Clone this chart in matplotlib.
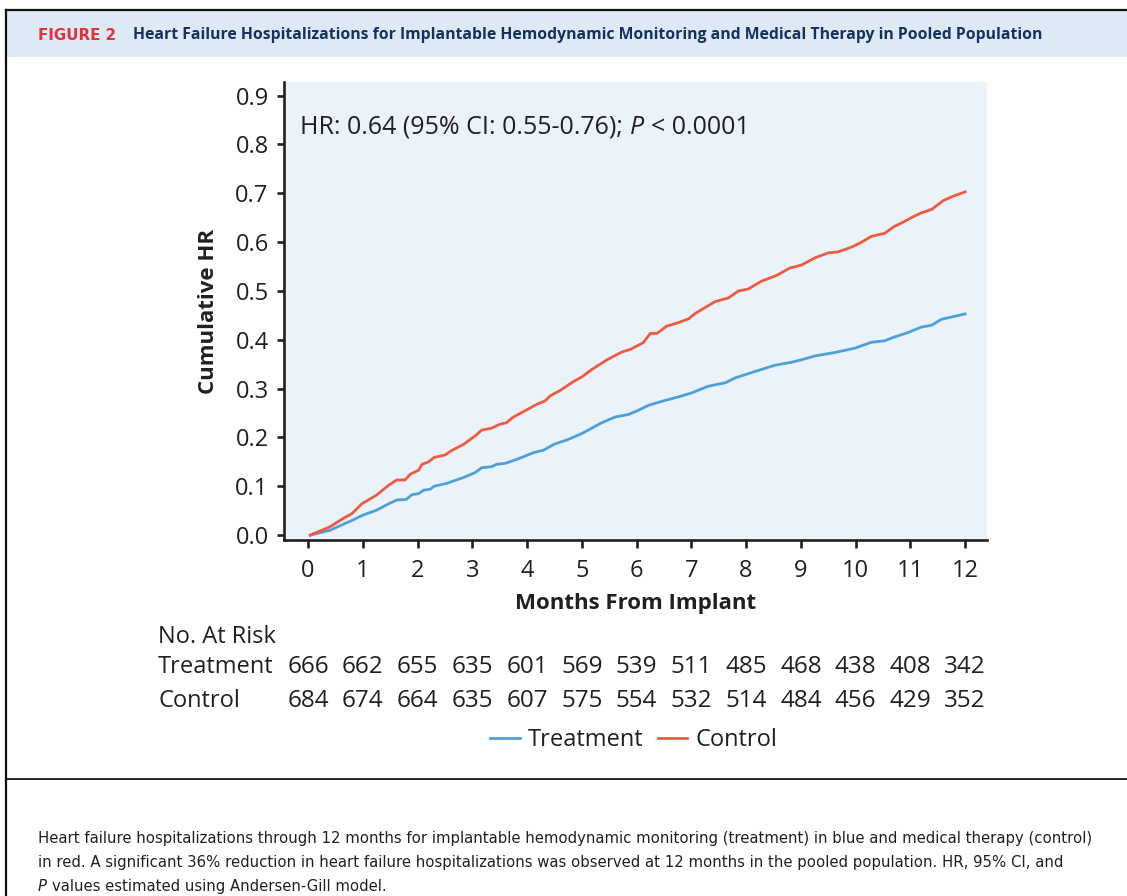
import numpy as np
import matplotlib
matplotlib.use("Agg")
import matplotlib.pyplot as plt
import matplotlib.transforms as mtransforms
from matplotlib.lines import Line2D
from matplotlib.patches import Rectangle

plt.rcParams['font.family'] = ['Open Sans', 'DejaVu Sans']

# cumulative HF hospitalizations
treat_months = [0.04, 0.4, 0.64, 0.82, 1.0, 1.25, 1.47, 1.62, 1.79, 1.9, 2.02, 2.11, 2.23, 2.3,
                2.53, 2.84, 3.05, 3.17, 3.35, 3.44, 3.6, 3.81, 4.12, 4.3, 4.49, 4.73, 5.0,
                5.36, 5.61, 5.85, 6.0, 6.22, 6.46, 6.76, 7.0, 7.31, 7.62, 7.8, 8.16, 8.53,
                8.83, 9.01, 9.26, 9.62, 9.99, 10.29, 10.53, 10.69, 10.96, 11.2, 11.39, 11.57, 12.0]
treat_hr = [0.0, 0.010, 0.022, 0.031, 0.041, 0.051, 0.064, 0.072, 0.073, 0.083, 0.085, 0.092, 0.094, 0.100,
            0.106, 0.118, 0.128, 0.138, 0.140, 0.145, 0.147, 0.155, 0.169, 0.174, 0.186, 0.195, 0.208,
            0.230, 0.242, 0.247, 0.254, 0.266, 0.274, 0.283, 0.291, 0.305, 0.312, 0.322, 0.335, 0.348,
            0.354, 0.359, 0.367, 0.374, 0.383, 0.395, 0.398, 0.405, 0.415, 0.426, 0.430, 0.442, 0.453]

ctrl_months = [0.04, 0.4, 0.64, 0.8, 0.98, 1.25, 1.47, 1.62, 1.77, 1.87, 2.02, 2.08, 2.2, 2.3,
               2.5, 2.62, 2.84, 3.05, 3.17, 3.35, 3.5, 3.62, 3.74, 3.9, 4.18, 4.33, 4.42, 4.6,
               4.84, 5.0, 5.18, 5.46, 5.73, 5.88, 6.12, 6.25, 6.37, 6.55, 6.76, 6.95, 7.07, 7.43,
               7.68, 7.86, 8.04, 8.28, 8.56, 8.8, 9.01, 9.26, 9.5, 9.68, 9.93, 10.11, 10.29,
               10.53, 10.69, 10.87, 11.05, 11.2, 11.39, 11.6, 11.78, 12.0]
ctrl_hr = [0.0, 0.017, 0.034, 0.044, 0.064, 0.082, 0.102, 0.113, 0.113, 0.125, 0.133, 0.145, 0.150, 0.159,
           0.164, 0.173, 0.186, 0.203, 0.215, 0.219, 0.227, 0.230, 0.241, 0.251, 0.268, 0.275, 0.285, 0.296,
           0.314, 0.324, 0.339, 0.359, 0.375, 0.380, 0.394, 0.413, 0.413, 0.428, 0.435, 0.443, 0.454, 0.478,
           0.486, 0.500, 0.504, 0.520, 0.532, 0.547, 0.553, 0.568, 0.578, 0.580, 0.590, 0.600, 0.612,
           0.618, 0.631, 0.641, 0.652, 0.660, 0.667, 0.685, 0.694, 0.703]

risk_months = list(range(13))
risk_treatment = [666, 662, 655, 635, 601, 569, 539, 511, 485, 468, 438, 408, 342]
risk_control = [684, 674, 664, 635, 607, 575, 554, 532, 514, 484, 456, 429, 352]

W, H = 1127, 896
ink = '#231f20'
blue = '#4f9fd9'
red = '#ef5a40'


def fx(px):
    return px / W


def fy(py):
    return 1 - py / H


fig = plt.figure(figsize=(W / 100, H / 100), dpi=100)

# frame, header band, caption divider
fig.add_artist(Rectangle((fx(7), fy(57)), fx(1127) - fx(7), (57 - 11) / H,
                         transform=fig.transFigure, facecolor='#dde9f5', edgecolor='none'))
fig.add_artist(Line2D([fx(6), 1], [fy(10), fy(10)], transform=fig.transFigure, color='#111111', lw=1.6))
fig.add_artist(Line2D([fx(6), fx(6)], [fy(10), 0], transform=fig.transFigure, color='#111111', lw=1.6))
fig.add_artist(Line2D([fx(6), 1], [fy(779), fy(779)], transform=fig.transFigure, color='#111111', lw=1.3))

fig.text(fx(38), fy(35), 'FIGURE 2', color='#e4313b', fontsize=10.8, fontweight='bold',
         family='DejaVu Sans', va='center', ha='left')
fig.text(fx(133), fy(35), 'Heart Failure Hospitalizations for Implantable Hemodynamic Monitoring '
         'and Medical Therapy in Pooled Population', color='#15325f', fontsize=11.3,
         fontweight='bold', va='center', ha='left')

ax = fig.add_axes([fx(284), fy(540), fx(987) - fx(284), (540 - 82) / H])
ax.set_facecolor('#eaf2fa')
ax.plot(treat_months, treat_hr, color=blue, lw=2.0, label='Treatment')
ax.plot(ctrl_months, ctrl_hr, color=red, lw=2.0, label='Control')

ax.set_xlim(-0.44, 12.4)
ax.set_ylim(-0.01, 0.928)
ax.set_xticks(risk_months)
ax.set_yticks(np.arange(0, 0.91, 0.1))
ax.set_yticklabels([f'{v:.1f}' for v in np.arange(0, 0.91, 0.1)])
for s in ['top', 'right']:
    ax.spines[s].set_visible(False)
for s in ['left', 'bottom']:
    ax.spines[s].set_linewidth(1.9)
    ax.spines[s].set_color(ink)
ax.tick_params(axis='x', length=6, width=1.9, color=ink, labelsize=17, labelcolor=ink, pad=8)
ax.tick_params(axis='y', length=5, width=1.9, color=ink, labelsize=17, labelcolor=ink, pad=6)

# HR annotation, italic P placed right after the first part
hr1 = fig.text(fx(300), fy(127), 'HR: 0.64 (95% CI: 0.55-0.76);', fontsize=18, color=ink,
               va='center', ha='left')
hr2 = ax.annotate('P', xy=(1, 0), xycoords=hr1, xytext=(5, 0), textcoords='offset points',
                  fontsize=18, color=ink, style='italic', va='bottom', ha='left')
ax.annotate('< 0.0001', xy=(1, 0), xycoords=hr2, xytext=(5, 0), textcoords='offset points',
            fontsize=18, color=ink, va='bottom', ha='left')

fig.text(fx(208), fy(311), 'Cumulative HR', rotation=90, fontsize=16, fontweight='bold',
         color=ink, va='center', ha='center')
fig.text(fx(636), fy(603), 'Months From Implant', fontsize=16, fontweight='bold',
         color=ink, va='center', ha='center')

# number at risk table
trans = mtransforms.blended_transform_factory(ax.transData, fig.transFigure)
fig.text(fx(158), fy(637), 'No. At Risk', fontsize=17, color=ink, va='center', ha='left')
fig.text(fx(158), fy(667), 'Treatment', fontsize=17, color=ink, va='center', ha='left')
fig.text(fx(158), fy(701), 'Control', fontsize=17, color=ink, va='center', ha='left')
for m, t, c in zip(risk_months, risk_treatment, risk_control):
    ax.text(m, fy(667), str(t), transform=trans, fontsize=17.5, color=ink, va='center', ha='center')
    ax.text(m, fy(701), str(c), transform=trans, fontsize=17.5, color=ink, va='center', ha='center')

fig.legend(handles=ax.lines, loc='center', bbox_to_anchor=(fx(634), fy(740)), ncol=2,
           frameon=False, fontsize=17, handlelength=1.25, handletextpad=0.35,
           columnspacing=0.6, labelcolor=ink)

caption = ['Heart failure hospitalizations through 12 months for implantable hemodynamic monitoring '
           '(treatment) in blue and medical therapy (control)',
           'in red. A significant 36% reduction in heart failure hospitalizations was observed at 12 '
           'months in the pooled population. HR, 95% CI, and']
for i, line in enumerate(caption):
    fig.text(fx(38), fy(838 + 24 * i), line, fontsize=10.7, family='DejaVu Sans',
             color=ink, va='center', ha='left')
cp = fig.text(fx(38), fy(886), 'P', fontsize=10.7, family='DejaVu Sans', style='italic',
              color=ink, va='center', ha='left')
ax.annotate('values estimated using Andersen-Gill model.', xy=(1, 0), xycoords=cp,
            xytext=(3.5, 0), textcoords='offset points', fontsize=10.7, family='DejaVu Sans',
            color=ink, va='bottom', ha='left')

fig.savefig('out.png', dpi=100)
